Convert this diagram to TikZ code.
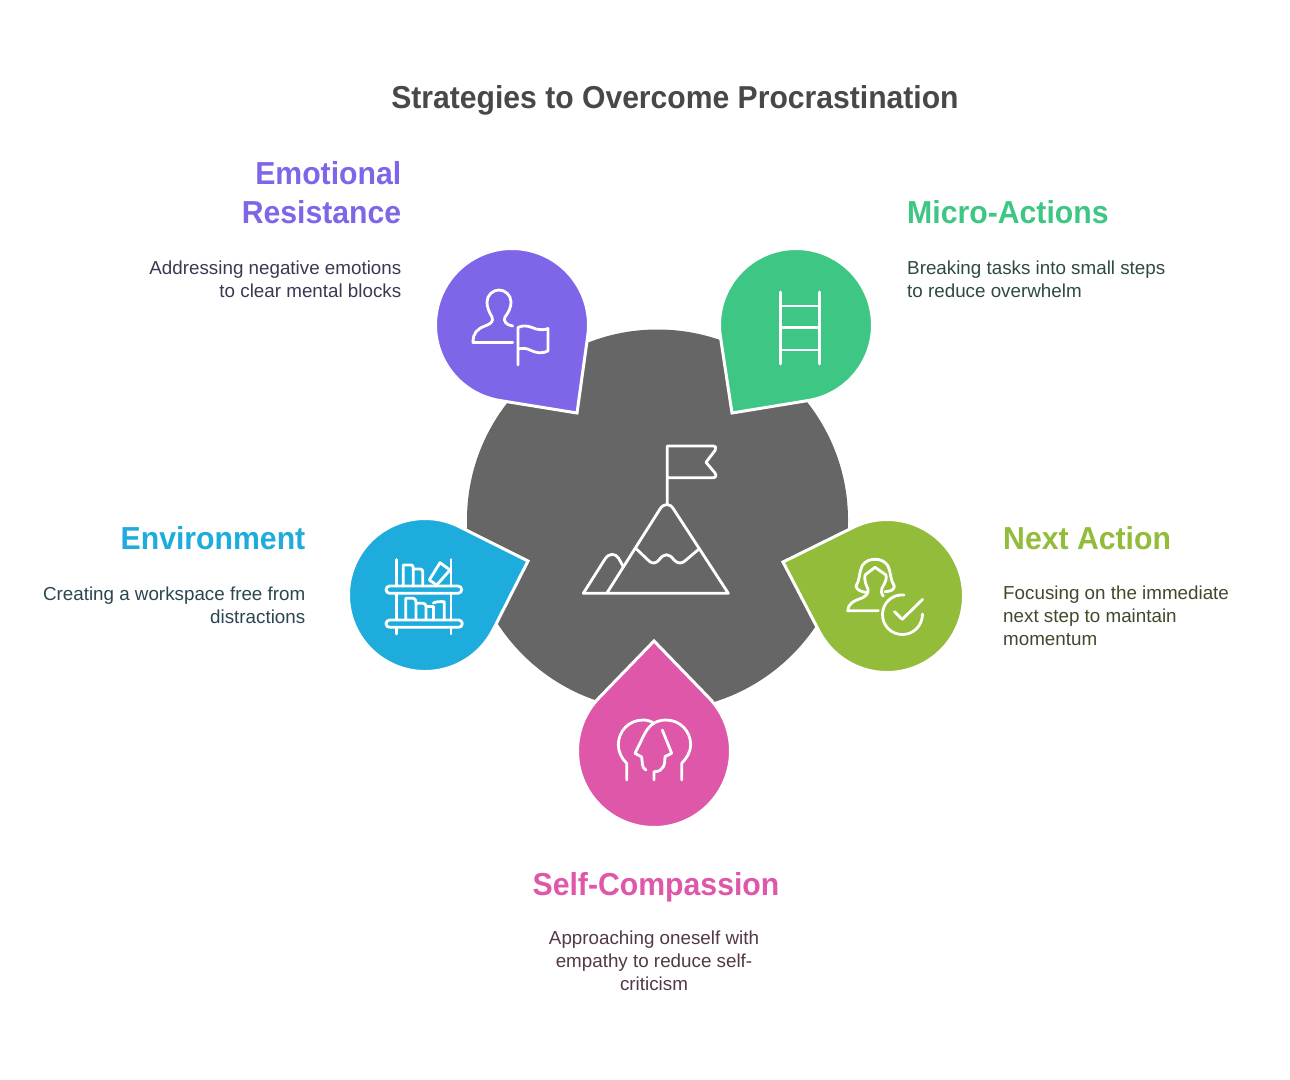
\documentclass[tikz,border=0pt]{standalone}
\usepackage{fontspec}
\setmainfont{Liberation Sans}
\newfontfamily\headfont[FakeStretch=0.95]{Liberation Sans Bold}
\usetikzlibrary{calc}
\definecolor{cpurple}{HTML}{7F66E9}
\definecolor{cgreen}{HTML}{3EC684}
\definecolor{cblue}{HTML}{1EACDC}
\definecolor{colive}{HTML}{93BC3A}
\definecolor{cpink}{HTML}{DE57A9}
\definecolor{cgray}{HTML}{666666}
\definecolor{ctitle}{HTML}{484848}
\definecolor{dpurple}{HTML}{3D3852}
\definecolor{dgreen}{HTML}{2F4A3E}
\definecolor{dblue}{HTML}{2C4650}
\definecolor{dolive}{HTML}{3F4A2C}
\definecolor{dpink}{HTML}{523848}
\tikzset{
  icon/.style={draw=white,line width=2.8pt,line cap=round,line join=round},
  headtxt/.style={inner sep=0pt,font=\headfont\fontsize{31.8}{39}\selectfont},
  desctxt/.style={inner sep=0pt,font=\fontsize{18.8}{22.7}\selectfont}
}
% \dropshape{cx}{cy}{tipx}{tipy}{colour}
\newcommand{\dropshape}[5]{%
  \pgfmathsetmacro{\da}{atan2(#4-#2,#3-#1)}%
  \pgfmathsetmacro{\dd}{veclen(#4-#2,#3-#1)}%
  \pgfmathsetmacro{\db}{acos(76.5/\dd)}%
  \pgfmathsetmacro{\ds}{\da+\db}%
  \pgfmathsetmacro{\de}{\da-\db+360}%
  \draw[fill=#5,draw=white,line width=3pt,line join=miter]
    (#3,#4) -- ($(#1,#2)+(\ds:76.5)$) arc[start angle=\ds,end angle=\de,radius=76.5] -- cycle;
}
\begin{document}
\begin{tikzpicture}[x=1pt,y=1pt,yscale=-1]
\useasboundingbox (0,0) rectangle (1290,1079);
\fill[white] (0,0) rectangle (1290,1079);
\fill[cgray] (657.5,520) circle[radius=190.5];
\dropshape{512}{325}{577}{413}{cpurple}
\dropshape{796}{325}{732}{413}{cgreen}
\dropshape{425}{595}{528}{561}{cblue}
\dropshape{887}{596}{783}{562}{colive}
\dropshape{654}{751}{654}{641}{cpink}

% centre icon
\draw[icon] (667.3,504) -- (667.3,446) -- (713,446) .. controls (716,446) and (716.5,448.5) .. (715,450.5) -- (706,462.3) -- (715,473) .. controls (716.5,475.5) and (716,477.7) .. (713,477.7) -- (667.3,477.7);
\draw[icon] (583.3,593.3) -- (728.3,593.3) -- (673.5,509) .. controls (670,503) and (664,503) .. (660,509) -- (606.7,593.3);
\draw[icon] (583.3,593.3) -- (605,559) .. controls (609,553) and (615,553) .. (618.5,558) -- (623.3,566.7);
\draw[icon] (635.7,548.3) -- (648,560) .. controls (653,565) and (656,563) .. (659,560) .. controls (664,553) and (669,553) .. (674,560) .. controls (678,564) and (682,564) .. (686,560) -- (699,549);

% emotional icon
\draw[icon] (512.7,326) .. controls (506,325) and (503,321) .. (505,317) .. controls (509,312) and (511,307) .. (511,302) .. controls (511,295) and (505,290) .. (499,290) .. controls (493,290) and (487,295) .. (487,302) .. controls (487,307) and (489,312) .. (492,317) .. controls (494,322) and (490,324) .. (485,326) .. controls (477,329) and (473,333) .. (473,342.5) -- (512.7,342.5);
\draw[icon] (518,365) -- (518,327.5) .. controls (526,324) and (530,327) .. (536,329) .. controls (541,330) and (545,330) .. (548,328.5) -- (548,351) .. controls (542,354) and (536,353) .. (530,350) .. controls (526,348) and (522,348) .. (518,349);

% ladder icon
\draw[icon] (780.7,292) -- (780.7,364);
\draw[icon] (819.3,292) -- (819.3,364);
\draw[icon] (780.7,306) -- (819.3,306) (780.7,327.7) -- (819.3,327.7) (780.7,350) -- (819.3,350);

% environment icon
\draw[icon,rounded corners=3.6pt] (386,586) rectangle (461.7,593.3);
\draw[icon,rounded corners=3.6pt] (386,620) rectangle (462.3,627.3);
\draw[icon] (396.7,559.5) -- (396.7,586) (396.7,593.3) -- (396.7,620) (396.7,627.3) -- (396.7,634);
\draw[icon] (451,559.5) -- (451,586) (451,593.3) -- (451,620) (451,627.3) -- (451,634);
\draw[icon] (403.3,586) -- (403.3,565) -- (411,565) .. controls (412.5,565) and (413.3,566) .. (413.3,568) -- (413.3,586);
\draw[icon] (413.3,569) -- (420,569) .. controls (422,569) and (422.7,570) .. (422.7,572) -- (422.7,586);
\draw[icon] (440,562.7) -- (450,570) -- (436.7,585) -- (429.3,580) -- cycle;
\draw[icon] (405.7,620) -- (405.7,598.3) -- (413,598.3) .. controls (415,598.3) and (416,600) .. (416,602) -- (416,620);
\draw[icon] (416,603.3) -- (423,603.3) .. controls (425,603.3) and (426,604.5) .. (426,606.7) -- (426,620);
\draw[icon] (426,606.7) -- (433.3,606.7) -- (433.3,620);
\draw[icon] (433.3,603) .. controls (436,601.5) and (440,601.5) .. (444.3,601.7) -- (444.3,620);

% next action icon
\draw[icon] (885,591.7) .. controls (890,591.5) and (894.5,590) .. (894.3,586) .. controls (890,580) and (891,572) .. (888,566) .. controls (885,561) and (880,559.3) .. (875,559.3) .. controls (870,559.3) and (865,561) .. (862,566) .. controls (859,572) and (860,580) .. (856,586) .. controls (856,590) and (862,592) .. (867.3,592.7);
\draw[icon] (883.3,596) .. controls (881,593) and (881,591) .. (882,588) .. controls (885,583) and (887,579) .. (886,575) -- (875,567.3) -- (865,575) .. controls (864,580) and (866,585) .. (868,589) .. controls (869,593) and (866,596) .. (862,598) .. controls (853,601) and (848,604) .. (847.7,610.7) -- (878.3,610.7);
\draw[icon] (904,595) .. controls (892,594) and (882.5,603) .. (882.5,614.5) .. controls (882.5,625.5) and (891,634.5) .. (902.5,634.5) .. controls (914,634.5) and (922.5,625) .. (922.5,614);
\draw[icon] (894.3,611.5) -- (902.3,619.3) -- (922.7,599.3);

% self-compassion icon
\draw[icon] (626.7,780) -- (626.7,763.3) .. controls (622,759) and (618.3,752) .. (618.3,745) .. controls (618.3,731) and (629,720) .. (643,720) .. controls (647,720) and (651,721) .. (654,723.5);
\draw[icon] (681.7,780) -- (681.7,763.3) .. controls (686,759) and (690.7,752) .. (690.7,745) .. controls (690.7,731) and (680,720) .. (666,720) .. controls (654,720) and (648,727) .. (644,735) -- (635,753.3) -- (641.7,757) .. controls (642.5,762) and (641.5,768) .. (646,770);
\draw[icon] (662.3,730) -- (671.7,753.3) -- (665,756.5) .. controls (665,764) and (664,771.7) .. (654,771.7) -- (654,780);

% texts
\node[inner sep=0pt,font=\headfont\fontsize{31.7}{37}\selectfont,text=ctitle] (title) at (675,100.5) {Strategies to Overcome Procrastination};

\node[headtxt,text=cpurple,align=right,anchor=north east] (emoh) at (401.5,161.5) {Emotional\\Resistance};
\node[desctxt,text=dpurple,align=right,anchor=north east] (emod) at (401.5,261) {Addressing negative emotions\\to clear mental blocks};

\node[headtxt,text=cgreen,align=left,anchor=north west] (mich) at (907,200.5) {Micro-Actions};
\node[desctxt,text=dgreen,align=left,anchor=north west] (micd) at (907,261) {Breaking tasks into small steps\\to reduce overwhelm};

\node[headtxt,text=cblue,align=right,anchor=north east] (envh) at (305.5,526.5) {Environment};
\node[desctxt,text=dblue,align=right,anchor=north east] (envd) at (305.5,587) {Creating a workspace free from\\distractions};

\node[headtxt,text=colive,align=left,anchor=north west] (nexh) at (1003,526.5) {Next Action};
\node[desctxt,text=dolive,align=left,anchor=north west] (nexd) at (1003,586) {Focusing on the immediate\\next step to maintain\\momentum};

\node[headtxt,text=cpink,align=center,anchor=north] (selh) at (656,872.5) {Self-Compassion};
\node[desctxt,text=dpink,align=center,anchor=north] (seld) at (654,931) {Approaching oneself with\\empathy to reduce self-\\criticism};
\end{tikzpicture}
\end{document}
